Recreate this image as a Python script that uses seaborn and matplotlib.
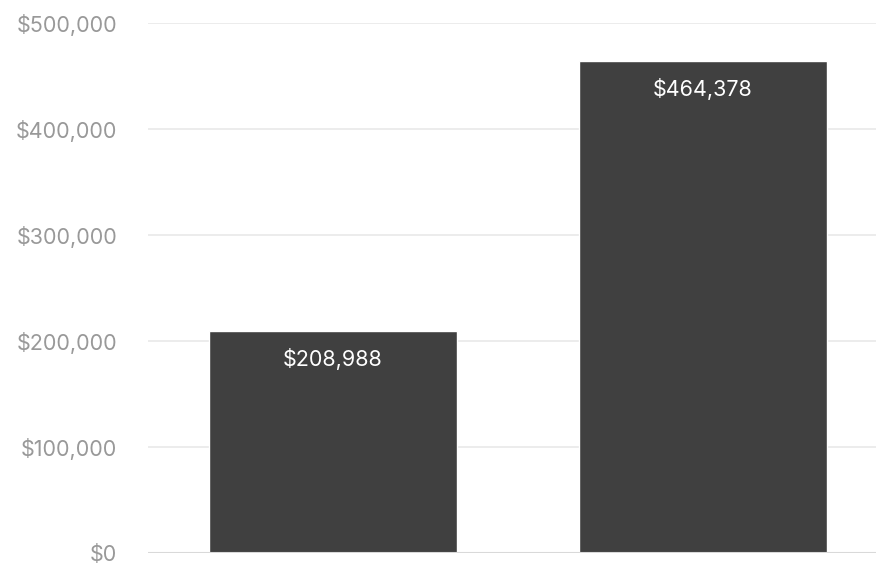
import matplotlib
matplotlib.use("Agg")
import matplotlib.pyplot as plt
import seaborn as sns
import pandas as pd
from matplotlib.ticker import FuncFormatter

categories = ["A", "B"]
values = [208988, 464378]
yticks = [0, 100000, 200000, 300000, 400000, 500000]

df = pd.DataFrame({"category": categories, "value": values})

sns.set_theme(style="white")
plt.rcParams["font.family"] = ["Inter", "DejaVu Sans"]

fig = plt.figure(figsize=(8.76, 5.64), dpi=100)
ax = fig.add_axes([148/876, 11/564, (876-148)/876, (553-23)/564])

sns.barplot(data=df, x="category", y="value", color="#404040", width=0.67,
            saturation=1, ax=ax, zorder=3)

ax.set_ylim(0, 500000)
ax.set_xlim(-0.5, 1.468)
ax.set_yticks(yticks)
ax.yaxis.set_major_formatter(FuncFormatter(lambda v, p: f"${int(v):,}"))
ax.tick_params(axis="y", labelsize=15.5, labelcolor="#999999", length=0, pad=22)
ax.set_xticks([])
ax.set_xlabel("")
ax.set_ylabel("")
for s in ax.spines.values():
    s.set_visible(False)
ax.grid(axis="y", color="#ebebeb", linewidth=1.3, zorder=0)
ax.axhline(0, color="#d9d9d9", linewidth=1.5, zorder=4)

for i, v in enumerate(values):
    ax.annotate(f"${v:,}", xy=(i, v), xytext=(0, -20), textcoords="offset points",
                ha="center", va="center", color="white", fontsize=15.5, zorder=5)

fig.savefig("out.png", dpi=100)
